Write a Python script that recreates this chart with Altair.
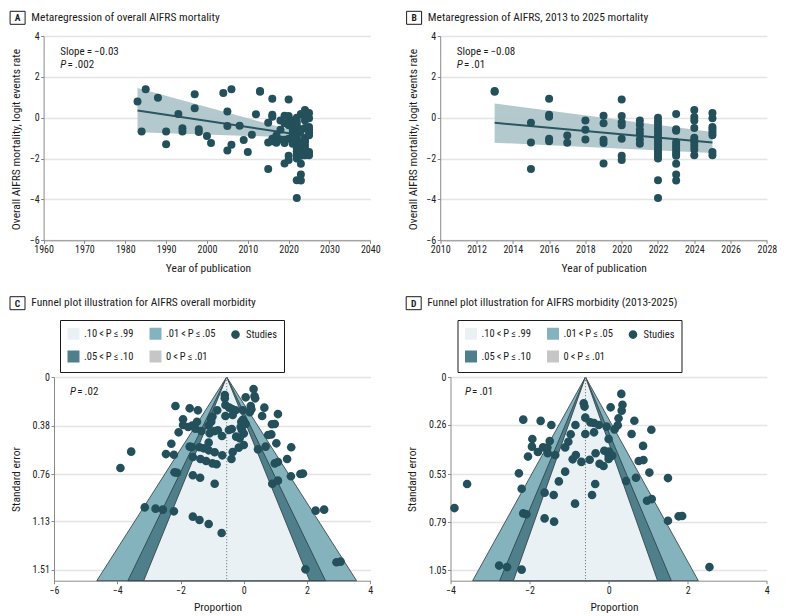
import altair as alt
import pandas as pd

FONT = "Roboto Condensed, Roboto, Liberation Sans, sans-serif"
INK = "#1b1b1b"
DOT = "#23505b"
BAND = "#abc3c9"
FIT = "#2a5662"
LIGHT = "#e9f1f4"
MID = "#84b3bd"
DARK = "#4f7f8a"
GREY = "#c6c6c6"
EDGE = "#2b3a3f"
GRID = "#e4e4e4"
AXIS = "#8a8a8a"

# ---------------- meta-regression: year of publication vs logit events rate
early_years = [1983, 1984, 1985, 1988, 1990, 1990, 1993, 1994, 1994, 1997, 1997, 1998, 1998,
               2000, 2001, 2004, 2005, 2005, 2005, 2006, 2006, 2008, 2009, 2010, 2011, 2012]
early_logit = [0.80, -0.68, 1.39, 0.98, -0.68, -1.30, 0.18, -0.52, -0.68, 1.15, 0.46, -0.57, -0.70,
               -0.89, -1.24, 1.21, 0.31, -0.40, -1.61, 1.39, -1.32, -0.39, -1.09, -1.68, -0.83, 0.17]

recent_years = [2013, 2015, 2016, 2017, 2018, 2019, 2020, 2021, 2022, 2023, 2024, 2025]
recent_logit = [
    [1.27, 1.31],
    [-0.25, -1.21, -2.51],
    [0.93, 0.14, 0.05, -1.03, -1.15],
    [-0.87, -1.22],
    [-0.13, -0.59, -1.07],
    [0.10, -0.27, -1.08, -1.24, -2.24],
    [0.89, 0.08, -0.22, -0.37, -1.03, -1.86, -2.07],
    [-0.13, -0.35, -0.59, -0.78, -1.07, -1.27],
    [0.00, -0.18, -0.35, -0.53, -0.68, -0.84, -0.98, -1.12, -1.25, -1.38, -1.52, -1.65,
     -1.78, -1.90, -2.00, -3.06, -3.93],
    [0.18, -0.57, -0.64, -1.20, -1.35, -1.48, -1.62, -1.75, -1.86, -2.25, -2.78, -3.07],
    [0.38, 0.03, -0.13, -0.50, -0.98, -1.10, -1.22, -1.38, -1.55, -1.84],
    [0.23, -0.03, -0.45, -0.58, -0.72, -0.86, -1.68, -1.84],
]

# fitted lines (value at first year + slope) and confidence band edges
fit_a_years = [1983, 2025]
fit_a_start = 0.35
slope_a = -0.03
band_a_upper = [1.45, -0.85]
band_a_lower = [-0.71, -0.99]

fit_b_years = [2013, 2025]
fit_b_start = -0.25
slope_b = -0.08
band_b_upper = [0.70, -0.70]
band_b_lower = [-1.22, -1.73]

# ---------------- funnel plots: (proportion, standard error) per study
funnel_c = [
    (0.31, 0.094), (0.34, 0.149), (0.36, 0.167), (0.06, 0.159), (-0.60, 0.141), (-0.60, 0.167),
    (-2.16, 0.227), (-1.71, 0.245), (-1.45, 0.261), (-0.58, 0.219), (-0.46, 0.240), (-0.37, 0.250),
    (-0.26, 0.261), (-0.03, 0.261), (0.22, 0.227), (0.24, 0.253), (0.65, 0.240), (1.08, 0.290),
    (-0.84, 0.261), (-0.99, 0.310), (-0.58, 0.305), (-0.35, 0.297), (-0.03, 0.336), (0.19, 0.276),
    (0.58, 0.305), (-1.92, 0.331), (-1.92, 0.376), (-1.76, 0.391), (-1.63, 0.381), (-1.48, 0.350),
    (-1.53, 0.404), (-1.34, 0.423), (-1.11, 0.381), (-1.03, 0.350), (-1.03, 0.329), (-2.06, 0.433),
    (-0.92, 0.423), (-0.82, 0.417), (-0.69, 0.462), (-1.08, 0.441), (-0.38, 0.407), (-0.10, 0.391),
    (-0.06, 0.415), (0.00, 0.443), (-0.08, 0.350), (0.06, 0.368), (0.89, 0.370), (0.98, 0.368),
    (0.77, 0.454), (0.87, 0.449), (-0.24, 0.467), (-0.13, 0.480), (-0.47, 0.415), (-2.29, 0.522),
    (-1.71, 0.545), (-1.64, 0.548), (-1.40, 0.550), (-1.27, 0.558), (-1.11, 0.514), (-1.11, 0.574),
    (-0.92, 0.589), (-0.68, 0.613), (-0.35, 0.587), (-0.16, 0.553), (0.00, 0.532), (0.45, 0.566),
    (0.69, 0.545), (1.03, 0.519), (1.50, 0.550), (-3.56, 0.584), (-2.46, 0.603), (-2.21, 0.608),
    (-1.61, 0.626), (-1.37, 0.642), (-1.19, 0.657), (-0.99, 0.676), (-0.86, 0.683), (-0.39, 0.642),
    (0.98, 0.676), (1.08, 0.665), (1.37, 0.642), (-3.90, 0.712), (-2.19, 0.746), (-2.11, 0.749),
    (-1.61, 0.769), (-1.38, 0.788), (-0.92, 0.835), (0.90, 0.835), (1.08, 0.811), (1.49, 0.777),
    (1.79, 0.759), (1.87, 0.756), (-3.13, 1.020), (-2.79, 1.030), (-2.56, 1.038), (-2.21, 1.051),
    (2.27, 1.046), (2.54, 1.038), (-1.61, 1.093), (-1.40, 1.119), (-1.11, 1.150), (-0.70, 1.221),
    (2.93, 1.450), (3.06, 1.445), (1.95, 1.505),
]
funnel_c_center = -0.54
funnel_c_se_max = 1.594
funnel_c_ticks = [0, 0.38, 0.76, 1.13, 1.51]

funnel_d = [
    (0.32, 0.092), (0.35, 0.151), (0.33, 0.183), (0.05, 0.165), (-0.63, 0.143), (-0.61, 0.161),
    (-2.16, 0.232), (-1.72, 0.239), (-1.45, 0.261), (-0.59, 0.221), (-0.46, 0.247), (-0.37, 0.250),
    (-0.25, 0.261), (-0.05, 0.270), (0.25, 0.225), (0.23, 0.263), (0.65, 0.238), (1.08, 0.287),
    (-0.84, 0.261), (-0.96, 0.312), (-0.59, 0.310), (-0.37, 0.301), (0.00, 0.337), (0.15, 0.285),
    (0.58, 0.310), (-1.93, 0.337), (-1.94, 0.379), (-1.79, 0.408), (-1.66, 0.383), (-1.55, 0.384),
    (-1.49, 0.348), (-1.54, 0.415), (-1.35, 0.424), (-1.10, 0.383), (-1.02, 0.352), (-2.04, 0.433),
    (-0.91, 0.448), (-0.83, 0.424), (-0.69, 0.462), (-0.48, 0.450), (-0.33, 0.415), (-0.11, 0.401),
    (0.00, 0.428), (0.00, 0.446), (0.01, 0.406), (0.09, 0.428), (0.87, 0.375), (0.76, 0.457),
    (0.88, 0.452), (-0.23, 0.472), (-0.13, 0.484), (-2.27, 0.524), (-1.10, 0.515), (-1.26, 0.568),
    (-2.20, 0.608), (-1.62, 0.629), (-1.39, 0.642), (-0.85, 0.689), (-0.34, 0.582), (-0.42, 0.642),
    (0.44, 0.566), (0.69, 0.548), (1.03, 0.520), (1.50, 0.550), (-3.58, 0.582), (0.97, 0.673),
    (1.09, 0.664), (-3.90, 0.713), (-2.16, 0.742), (-2.08, 0.747), (-1.62, 0.769), (-1.38, 0.787),
    (1.50, 0.782), (1.77, 0.758), (1.86, 0.756), (-2.77, 1.026), (-2.57, 1.034), (-2.20, 1.048),
    (2.55, 1.034),
]
funnel_d_center = -0.586
funnel_d_se_max = 1.108
funnel_d_ticks = [0, 0.26, 0.53, 0.79, 1.05]

# contour z-values, drawn outermost first
contour_z = [2.576, 1.960, 1.645]
contour_fill = [MID, DARK, LIGHT]

TS = "\u2009"
# legend entries fill column by column (two rows, three columns)
legend_items = [f".10{TS}<{TS}P{TS}≤{TS}.99", f".05{TS}<{TS}P{TS}≤{TS}.10",
                f".01{TS}<{TS}P{TS}≤{TS}.05", f"0{TS}<{TS}P{TS}≤{TS}.01", "Studies"]
legend_colors = [LIGHT, DARK, MID, GREY, DOT]
DOT_PATH = "M0,-0.72A0.72,0.72,0,1,1,0,0.72A0.72,0.72,0,1,1,0,-0.72Z"
legend_shapes = ["square", "square", "square", "square", DOT_PATH]

ONE = pd.DataFrame({"k": [0]})


def label(txt, x, y, size=11, style="normal", weight="normal", align="left"):
    return alt.Chart(ONE).mark_text(
        text=txt, font=FONT, fontSize=size, fontStyle=style, fontWeight=weight,
        align=align, baseline="middle", color=INK,
    ).encode(x=alt.value(x), y=alt.value(y))


def header(letter, title, box_left, box_top, text_left):
    box = alt.Chart(ONE).mark_rect(fill="white", stroke=INK, strokeWidth=1).encode(
        x=alt.value(box_left), x2=alt.value(box_left + 15),
        y=alt.value(box_top), y2=alt.value(box_top + 13),
    )
    return [
        box,
        label(letter, box_left + 7.5, box_top + 6.8, size=9.5, weight="bold", align="center"),
        label(title, text_left, box_top + 6.6, size=11.5),
    ]


def p_value(text, x, y):
    return [label("P", x, y, style="italic"), label(f"={TS}{text}", x + 7.2, y)]


def meta_panel(years, logits, fit_years, fit_start, slope, up, lo, x_domain, x_step,
               shift, width, letter, title, slope_text, p_text, title_x):
    xs = alt.Scale(domain=x_domain, range=[-shift, width], nice=False, zero=False)
    ys = alt.Scale(domain=[-6, 4], nice=False, zero=False)
    xax = alt.Axis(values=list(range(x_domain[0], x_domain[1] + 1, x_step)), format="d",
                   grid=False, title="Year of publication", titleX=title_x, titleY=27.7,
                   titleBaseline="middle")
    yax = alt.Axis(values=list(range(-6, 5, 2)), grid=True, offset=shift,
                   title="Overall AIFRS mortality, logit events rate", titleAngle=270,
                   titleX=-27, titleY=103, titleBaseline="middle")
    X = alt.X("year:Q", scale=xs, axis=xax)

    pts = pd.DataFrame({"year": years, "logit": logits})
    fit = pd.DataFrame({"year": fit_years,
                        "fit": [fit_start, fit_start + slope * (fit_years[1] - fit_years[0])]})
    band = pd.DataFrame({"year": fit_years, "up": up, "lo": lo})

    layers = [
        alt.Chart(band).mark_area(color=BAND, opacity=0.9).encode(
            x=X, y=alt.Y("up:Q", scale=ys, axis=yax), y2="lo:Q"),
        alt.Chart(fit).mark_line(color=FIT, strokeWidth=2).encode(
            x=X, y=alt.Y("fit:Q", scale=ys, axis=yax)),
        alt.Chart(pts).mark_circle(size=64, color=DOT, opacity=1).encode(
            x=X, y=alt.Y("logit:Q", scale=ys, axis=yax)),
        label(f"Slope{TS}={TS}{slope_text}", 6.3, 16),
    ]
    layers += p_value(p_text, 6.3, 28.5)
    layers += header(letter, title, -43.9, -24.7, -22.7)
    return alt.layer(*layers).properties(width=width, height=204.3)


def funnel_panel(pairs, center, se_max, ticks, x_domain, legend_x, letter, title,
                 p_text, p_x, box_left, text_left):
    width, height = 316.3, 203.7
    xs = alt.Scale(domain=x_domain, nice=False, zero=False)
    ys = alt.Scale(domain=[0, se_max], reverse=True, nice=False, zero=False)
    xax = alt.Axis(values=list(range(x_domain[0], x_domain[1] + 1, 2)), grid=False,
                   title="Proportion", titleX=163.5, titleY=27, titleBaseline="middle")
    yax = alt.Axis(values=ticks, grid=True, title="Standard error", titleAngle=270,
                   titleX=-37.7, titleY=102, titleBaseline="middle",
                   labelExpr="datum.value == 0 ? '0' : format(datum.value, '.2f')")
    leg = alt.Legend(title=None, orient="none", legendX=legend_x, legendY=-57, columns=3,
                     direction="vertical", strokeColor=INK, padding=7, rowPadding=6,
                     columnPadding=13, labelFont=FONT, labelFontSize=10.5, labelColor=INK,
                     labelOffset=4, symbolSize=144, symbolStrokeColor="#333333",
                     symbolStrokeWidth=1, symbolOpacity=1, gridAlign="each")

    layers = []
    for z, fill in zip(contour_z, contour_fill):
        tri = pd.DataFrame({"se": [0, se_max],
                            "lo": [center, center - z * se_max],
                            "hi": [center, center + z * se_max]})
        layers.append(
            alt.Chart(tri).mark_area(orient="horizontal", color=fill, opacity=1,
                                     stroke=EDGE, strokeWidth=0.8).encode(
                x=alt.X("lo:Q", scale=xs, axis=xax), x2="hi:Q",
                y=alt.Y("se:Q", scale=ys, axis=yax)))

    mid = pd.DataFrame({"c": [center], "s0": [0], "s1": [se_max]})
    layers.append(alt.Chart(mid).mark_rule(color="#7d7d7d", strokeDash=[1.2, 1.8],
                                           strokeWidth=1).encode(
        x=alt.X("c:Q", scale=xs, axis=xax), y=alt.Y("s0:Q", scale=ys, axis=yax), y2="s1:Q"))

    pts = pd.DataFrame({"prop": [p for p, _ in pairs], "se": [s for _, s in pairs],
                        "cat": "Studies"})
    layers.append(alt.Chart(pts).mark_point(filled=True, opacity=1, size=144).encode(
        x=alt.X("prop:Q", scale=xs, axis=xax),
        y=alt.Y("se:Q", scale=ys, axis=yax),
        color=alt.Color("cat:N", scale=alt.Scale(domain=legend_items, range=legend_colors),
                        legend=leg),
        shape=alt.Shape("cat:N", scale=alt.Scale(domain=legend_items, range=legend_shapes),
                        legend=leg)))
    layers += p_value(p_text, p_x, 14.7)
    layers += header(letter, title, box_left, -80.3, text_left)
    return alt.layer(*layers).properties(width=width, height=height)


a_years = early_years + [y for y, vals in zip(recent_years, recent_logit) for _ in vals]
a_logit = early_logit + [v for vals in recent_logit for v in vals]
b_years = [y for y, vals in zip(recent_years, recent_logit) for _ in vals]
b_logit = [v for vals in recent_logit for v in vals]

panel_a = meta_panel(a_years, a_logit, fit_a_years, fit_a_start, slope_a,
                     band_a_upper, band_a_lower, [1960, 2040], 10, 10.4, 316.3, "A",
                     "Metaregression of overall AIFRS mortality", "\u22120.03", ".002", 153.9)
panel_b = meta_panel(b_years, b_logit, fit_b_years, fit_b_start, slope_b,
                     band_b_upper, band_b_lower, [2010, 2028], 2, 10.3, 316.4, "B",
                     "Metaregression of AIFRS, 2013 to 2025 mortality", "\u22120.08", ".01", 153.2)
panel_c = funnel_panel(funnel_c, funnel_c_center, funnel_c_se_max, funnel_c_ticks, [-6, 4], 6,
                       "C", "Funnel plot illustration for AIFRS overall morbidity", ".02", 16,
                       -44.0, -22.7)
panel_d = funnel_panel(funnel_d, funnel_d_center, funnel_d_se_max, funnel_d_ticks, [-4, 4], 7,
                       "D", "Funnel plot illustration for AIFRS morbidity (2013-2025)", ".01", 14.4,
                       -44.3, -23.3)

chart = alt.concat(panel_a, panel_b, panel_c, panel_d, columns=2,
                   spacing={"row": 22, "column": 24.5}).resolve_scale(
    color="independent", shape="independent"
).resolve_legend(
    color="independent", shape="independent"
).properties(
    padding={"left": 9, "top": 10, "right": 5, "bottom": 5}
).configure_view(strokeWidth=0).configure_axis(
    labelFont=FONT, labelFontSize=10, labelColor=INK, labelFlush=False, labelOverlap=False,
    titleFont=FONT, titleFontSize=11.5, titleFontWeight="normal", titleColor=INK,
    domainColor=AXIS, tickColor=AXIS, tickSize=3, labelPadding=1.5,
    gridColor=GRID, gridWidth=1.3,
)

chart.save("out.html", embed_options={"renderer": "svg", "actions": False})
